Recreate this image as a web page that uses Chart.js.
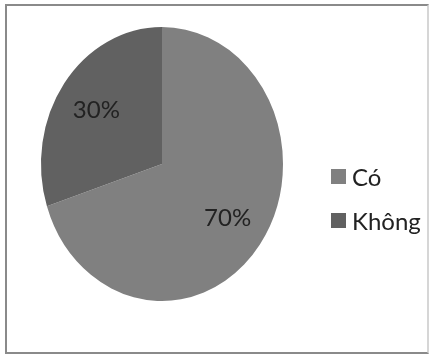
<!DOCTYPE html>
<html lang="vi">
<head>
  <meta charset="UTF-8" />
  <title>Có / Không</title>
  <script src="https://cdn.jsdelivr.net/npm/chart.js"></script>
  <style>
    body {
      margin: 0;
      background: #ffffff;
      font-family: 'Lato', 'Open Sans', sans-serif;
    }

    .frame {
      position: absolute;
      left: 5px;
      top: 4px;
      width: 420px;
      height: 346px;
      border: 2px solid #8a8a8a;
      border-right-color: #d6d6d6;
    }

    #pieChart {
      position: absolute;
      left: 0;
      top: 0;
    }

    .legend {
      position: absolute;
      left: 331px;
      top: 154px;
      margin: 0;
      padding: 0;
      list-style: none;
    }

    .legend li {
      display: flex;
      align-items: center;
      height: 44px;
      font-size: 24px;
      color: #222222;
    }

    .legend .box {
      width: 15px;
      height: 15px;
      margin-right: 6px;
    }
  </style>
</head>
<body>
  <div class="frame"></div>
  <canvas id="pieChart" width="430" height="358"></canvas>
  <ul class="legend" id="legend"></ul>

  <script>
    const labels = ["Có", "Không"];
    const percents = [70, 30];
    const colors = ["#808080", "#616161"];

    // pie is drawn as an ellipse that fills the chart area
    const stretchPie = {
      id: 'stretchPie',
      beforeDatasetsDraw(chart) {
        const { ctx, chartArea: a } = chart;
        const cx = (a.left + a.right) / 2;
        const cy = (a.top + a.bottom) / 2;
        ctx.save();
        ctx.translate(cx, cy);
        ctx.scale(1, a.height / a.width);
        ctx.translate(-cx, -cy);
      },
      afterDatasetsDraw(chart) {
        chart.ctx.restore();
      }
    };

    // percentage text inside each slice
    const sliceLabels = {
      id: 'sliceLabels',
      afterDraw(chart) {
        const { ctx, chartArea: a } = chart;
        const sy = a.height / a.width;
        const cy = (a.top + a.bottom) / 2;
        const meta = chart.getDatasetMeta(0);
        ctx.save();
        ctx.font = "24px 'Lato', 'Open Sans', sans-serif";
        ctx.fillStyle = '#222222';
        ctx.textAlign = 'center';
        ctx.textBaseline = 'middle';
        meta.data.forEach((arc, i) => {
          const { x, startAngle, endAngle, outerRadius } =
            arc.getProps(['x', 'startAngle', 'endAngle', 'outerRadius'], true);
          const mid = (startAngle + endAngle) / 2;
          const r = outerRadius * 0.67;
          ctx.fillText(percents[i] + '%', x + Math.cos(mid) * r, cy + Math.sin(mid) * r * sy);
        });
        ctx.restore();
      }
    };

    const chart = new Chart(document.getElementById('pieChart'), {
      type: 'pie',
      data: {
        labels: labels,
        datasets: [{
          data: percents,
          backgroundColor: colors,
          borderWidth: 0
        }]
      },
      options: {
        responsive: false,
        animation: false,
        layout: {
          padding: { left: 41, right: 147, top: 27, bottom: 57 }
        },
        plugins: {
          legend: { display: false },
          tooltip: { enabled: false }
        }
      },
      plugins: [stretchPie, sliceLabels]
    });

    // legend list built from the chart's own legend items
    const legendEl = document.getElementById('legend');
    Chart.overrides.pie.plugins.legend.labels.generateLabels(chart).forEach(item => {
      const li = document.createElement('li');
      const box = document.createElement('span');
      box.className = 'box';
      box.style.background = item.fillStyle;
      li.appendChild(box);
      li.appendChild(document.createTextNode(item.text));
      legendEl.appendChild(li);
    });
  </script>
</body>
</html>
